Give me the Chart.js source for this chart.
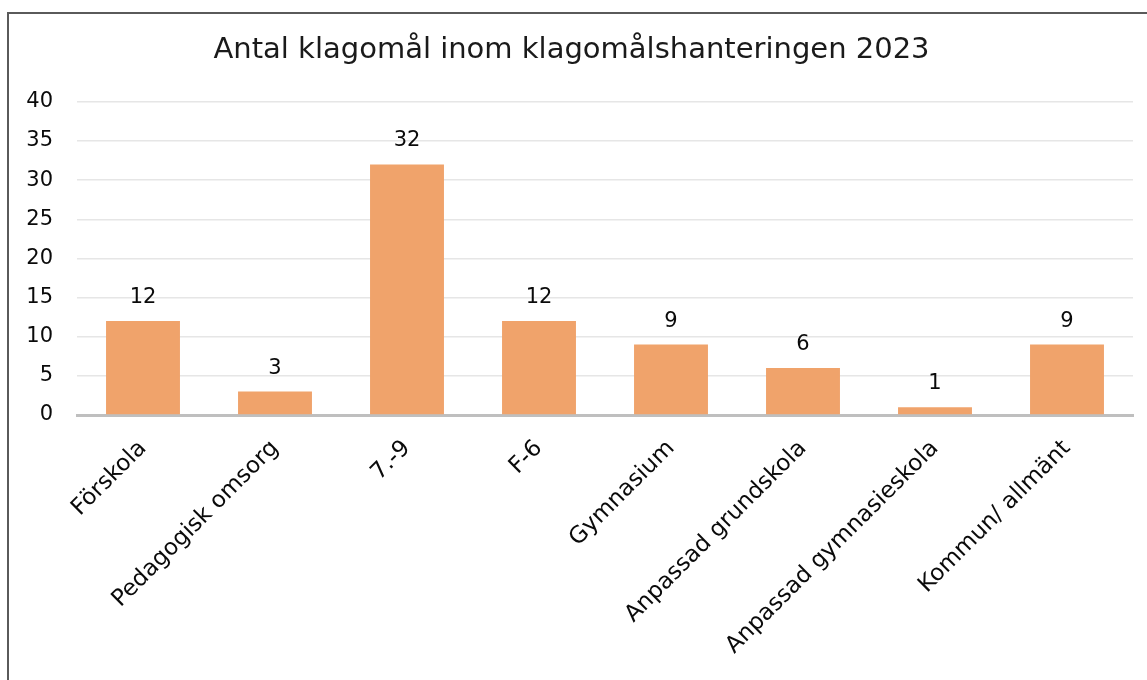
<!DOCTYPE html>
<html>
<head>
<meta charset="utf-8">
<script src="https://cdn.jsdelivr.net/npm/chart.js@4"></script>
<style>
    html, body { margin: 0; padding: 0; background: #fff; overflow: hidden; }
    #frame { position: absolute; left: 7px; top: 12px; width: 1200px; height: 720px; border: 2px solid #5a5a5a; }
    #wrap { position: absolute; left: 0; top: 0; width: 1147px; height: 680px; }
</style>
</head>
<body>
<div id="frame"></div>
<div id="wrap"><canvas id="klagomalChart"></canvas></div>
<script>
// Data
const categories = ['Förskola', 'Pedagogisk omsorg', '7.-9', 'F-6', 'Gymnasium', 'Anpassad grundskola', 'Anpassad gymnasieskola', 'Kommun/ allmänt'];
const complaints = [12, 3, 32, 12, 9, 6, 1, 9];
const yTicks = [0, 5, 10, 15, 20, 25, 30, 35, 40];

const FONT = '"DejaVu Sans", "Liberation Sans", Arial, sans-serif';

// simple value labels above each bar
const valueLabels = {
    id: 'valueLabels',
    afterDatasetsDraw(chart) {
        const ctx = chart.ctx;
        const meta = chart.getDatasetMeta(0);
        ctx.save();
        ctx.font = '21px ' + FONT;
        ctx.fillStyle = '#0a0a0a';
        ctx.textAlign = 'center';
        ctx.textBaseline = 'alphabetic';
        meta.data.forEach((bar, i) => {
            ctx.fillText(String(complaints[i]), bar.x, bar.y - 18);
        });
        ctx.restore();
    }
};

document.addEventListener('DOMContentLoaded', function() {
    const ctx = document.getElementById('klagomalChart').getContext('2d');
    new Chart(ctx, {
        type: 'bar',
        data: {
            labels: categories,
            datasets: [{
                label: 'Antal klagomål',
                data: complaints,
                backgroundColor: 'rgb(240, 163, 107)',
                categoryPercentage: 1,
                barPercentage: 0.56
            }]
        },
        options: {
            responsive: true,
            maintainAspectRatio: false,
            animation: false,
            layout: { padding: { left: 10, right: 14, top: 18, bottom: 0 } },
            plugins: {
                legend: { display: false },
                tooltip: { enabled: false },
                title: {
                    display: true,
                    text: 'Antal klagomål inom klagomålshanteringen 2023',
                    color: '#1a1a1a',
                    font: { family: FONT, size: 29, weight: 'normal' },
                    padding: { top: 15, bottom: 34 }
                }
            },
            scales: {
                x: {
                    grid: { display: false, drawTicks: false },
                    border: { color: '#bfbfbf', width: 3 },
                    ticks: {
                        color: '#0a0a0a',
                        font: { family: FONT, size: 23 },
                        maxRotation: 45,
                        minRotation: 45,
                        padding: 20
                    },
                    afterFit(scale) { scale.height = 265; }
                },
                y: {
                    min: 0,
                    max: 40,
                    afterBuildTicks(scale) { scale.ticks = yTicks.map(v => ({ value: v })); },
                    grid: { color: '#e6e6e6', lineWidth: 1.5, drawTicks: false },
                    border: { display: false },
                    ticks: {
                        color: '#0a0a0a',
                        font: { family: FONT, size: 21 },
                        padding: 24
                    },
                    afterFit(scale) { scale.width = 67; }
                }
            }
        },
        plugins: [valueLabels]
    });
});
</script>
</body>
</html>
